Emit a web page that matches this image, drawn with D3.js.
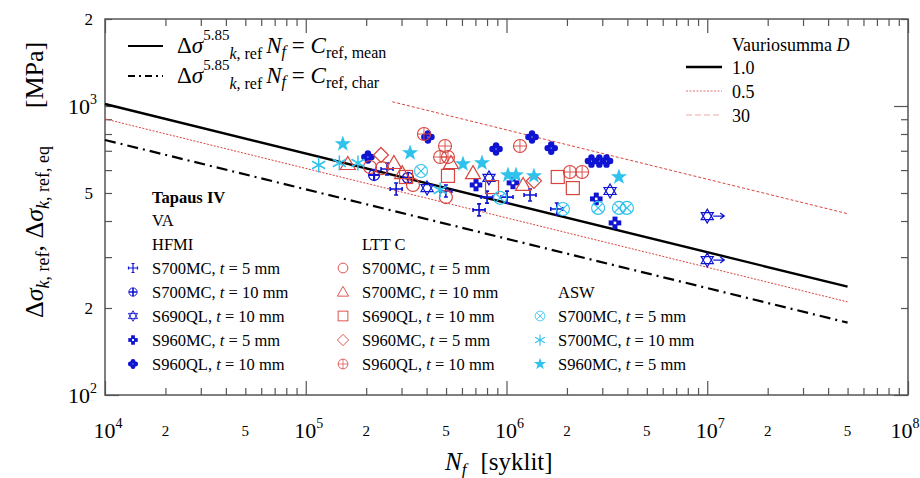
<!DOCTYPE html>
<html>
<head>
<script src="https://cdn.jsdelivr.net/npm/d3@7"></script>
<style>
html, body { margin: 0; background: #fff; }
svg { display: block; }
svg text { font-family: "Liberation Serif", "DejaVu Serif", serif; }
</style>
</head>
<body>
<div id="chart"></div>
<script>

// --- data (N cycles, stress range MPa) ---
var hfmi700t5  = [[2.54e5,605],[2.82e5,516],[4.99e5,508],[7.3e5,437],[8.0e5,484],[1.006e6,484],[1.31e6,492],[1.78e6,440]];
var hfmi700t10 = [[2.19e5,577],[3.23e5,564]];
var hfmi690t10 = [[4.02e5,520],[8.18e5,564],[3.28e6,508]];
var hfmi690run = [[1e7,416],[1e7,293]];
var hfmi960t5  = [[7.05e5,533],[1.077e6,542],[2.8e6,477],[3.47e6,394]];
var hfmi960t10 = [[2.04e5,666],[4.06e5,781],[8.87e5,710],[1.34e6,781],[1.67e6,715],[2.65e6,645],[2.9e6,645],[3.15e6,645]];

var ltt700t5  = [[2.09e5,615],[2.4e5,610],[3.42e5,533],[4.99e5,484]];
var ltt700t10 = [[1.62e5,630],[2.75e5,635],[3.02e5,586],[5.29e5,635],[6.81e5,586],[1.21e6,533]];
var ltt690t10 = [[3.16e5,568],[5.11e5,573],[8.47e5,524],[1.8e6,568],[2.14e6,520]];
var ltt960t5  = [[2.37e5,677],[1.37e6,551]];
var ltt960t10 = [[3.88e5,800],[4.94e5,727],[4.67e5,666],[5.11e5,666],[1.167e6,727],[2.07e6,591],[2.38e6,591]];

var asw700t5  = [[3.75e5,596],[9.29e5,481],[1.91e6,440],[2.86e6,444],[3.63e6,444],[3.98e6,444]];
var asw700t10 = [[1.16e5,625],[1.47e5,635],[1.82e5,635],[4.67e5,512]];
var asw960t5  = [[1.53e5,739],[3.31e5,688],[6.07e5,630],[7.55e5,635],[1.017e6,577],[1.115e6,577],[1.37e6,573],[3.63e6,568]];

// S-N lines, end points
var meanLine = [[1e4,1016],[5e7,237]];
var charLine = [[1e4,763],[5e7,178]];
var d05Line  = [[1e4,902],[5e7,210]];
var d30Line  = [[2.7e5,1034],[5e7,424]];

var xMajor = [1e4,1e5,1e6,1e7,1e8];
var xMinor = [];
[1e4,1e5,1e6,1e7].forEach(function(d){ for (var k=2;k<10;k++) xMinor.push(d*k); });
var xMinorLabels = ["2","5"];
var yMajor = [100,1000];
var yMinor = [200,300,400,500,600,700,800,900,2000];
var yMinorLabels = [[200,"2"],[500,"5"],[2000,"2"]];

var blue = "#0f14d2", red = "#d8443e", cyan = "#2ec2ec", frame = "#555";

var W = 920, H = 478;
var svg = d3.select("#chart").append("svg").attr("width", W).attr("height", H)
  .attr("font-family", "Liberation Serif, DejaVu Serif, serif");

var x = d3.scaleLog().domain([1e4,1e8]).range([105,908]);
var y = d3.scaleLog().domain([100,2000]).range([395,19]);

// ticks, all inward
function tickGroup(axis, vals, len, tr) {
  svg.append("g").attr("transform", tr)
    .call(axis.tickValues(vals).tickSize(-len).tickFormat(""))
    .call(function(g){ g.select(".domain").remove(); })
    .selectAll("line").attr("stroke", frame).attr("stroke-width", 1.2);
}
tickGroup(d3.axisBottom(x), xMajor, 14, "translate(0,395)");
tickGroup(d3.axisBottom(x), xMinor, 7, "translate(0,395)");
tickGroup(d3.axisTop(x), xMajor, 14, "translate(0,19)");
tickGroup(d3.axisTop(x), xMinor, 7, "translate(0,19)");
tickGroup(d3.axisLeft(y), yMajor, 14, "translate(105,0)");
tickGroup(d3.axisLeft(y), yMinor, 7, "translate(105,0)");
tickGroup(d3.axisRight(y), yMajor, 14, "translate(908,0)");
tickGroup(d3.axisRight(y), yMinor, 7, "translate(908,0)");

svg.append("rect").attr("x",105).attr("y",19).attr("width",803).attr("height",376)
  .attr("fill","none").attr("stroke",frame).attr("stroke-width",1.5);

// tick labels
xMajor.forEach(function(v, i){
  var t = svg.append("text").attr("x", x(v) + (i == 4 ? -3 : 3)).attr("y", 438).attr("text-anchor","middle").attr("font-size",22);
  t.append("tspan").text("10");
  t.append("tspan").attr("dy",-10).attr("font-size",14).text(Math.round(Math.log10(v)));
});
xMajor.slice(0,4).forEach(function(d){
  xMinorLabels.forEach(function(s){
    svg.append("text").attr("x", x(d*(+s))).attr("y",436).attr("text-anchor","middle").attr("font-size",15).text(s);
  });
});
yMajor.forEach(function(v){
  var t = svg.append("text").attr("x", 97).attr("y", y(v)+8).attr("text-anchor","end").attr("font-size",22);
  t.append("tspan").text("10");
  t.append("tspan").attr("dy",-10).attr("font-size",14).text(Math.round(Math.log10(v)));
});
yMinorLabels.forEach(function(d){
  svg.append("text").attr("x",93).attr("y",y(d[0])+6).attr("text-anchor","end").attr("font-size",17).text(d[1]);
});

// axis titles
var xt = svg.append("text").attr("x",445).attr("y",470).attr("font-size",25);
xt.append("tspan").attr("font-style","italic").text("N");
xt.append("tspan").attr("font-style","italic").attr("font-size",17).attr("dy",5).text("f");
xt.append("tspan").attr("dy",-5).attr("dx",14).text("[syklit]");

var yt = svg.append("text").attr("transform","translate(43,232) rotate(-90)").attr("text-anchor","middle").attr("font-size",26);
yt.append("tspan").text("Δ");
yt.append("tspan").attr("font-style","italic").text("σ");
yt.append("tspan").attr("font-style","italic").attr("font-size",18).attr("dy",6).text("k");
yt.append("tspan").attr("font-size",18).text(", ref");
yt.append("tspan").attr("dy",-6).text(",  Δ");
yt.append("tspan").attr("font-style","italic").text("σ");
yt.append("tspan").attr("font-style","italic").attr("font-size",18).attr("dy",6).text("k");
yt.append("tspan").attr("font-size",18).text(", ref, eq");
svg.append("text").attr("transform","translate(43,75) rotate(-90)").attr("text-anchor","middle").attr("font-size",26).text("[MPa]");

// lines
var line = d3.line().x(function(d){ return x(d[0]); }).y(function(d){ return y(d[1]); });
var lineStyles = [
  [d05Line, red, 1, "2,1.5"],
  [d30Line, red, 1, "3,2"],
  [charLine, "#000", 2.2, "11,5,2,5"],
  [meanLine, "#000", 2.4, null]
];
lineStyles.forEach(function(s){
  svg.append("path").attr("d", line(s[0])).attr("fill","none").attr("stroke",s[1])
    .attr("stroke-width",s[2]).attr("stroke-dasharray",s[3]);
});

// marker shapes
function star(ro, ri) {
  var p = [];
  for (var i=0;i<10;i++) {
    var a = -Math.PI/2 + i*Math.PI/5, r = i%2 ? ri : ro;
    p.push([r*Math.cos(a), r*Math.sin(a)]);
  }
  return "M" + p.join("L") + "Z";
}
function tri(r, a0) {
  var p = [];
  for (var i=0;i<3;i++) { var a = a0 + i*2*Math.PI/3; p.push([r*Math.cos(a), r*Math.sin(a)]); }
  return "M" + p.join("L") + "Z";
}
var shapes = {
  cross: function(g,c){
    g.append("path").attr("d","M0,-6.5V6.5M-6.5,0H6.5M-2,-6H2M-2,6H2M-6,-2V2M6,-2V2")
      .attr("stroke",c).attr("stroke-width",1.6).attr("fill","none");
  },
  crossCircle: function(g,c){
    g.append("circle").attr("r",5.5).attr("stroke",c).attr("stroke-width",1.3).attr("fill","none");
    g.append("path").attr("d","M0,-5.5V5.5M-5.5,0H5.5").attr("stroke",c).attr("stroke-width",2.2);
  },
  hexagram: function(g,c){
    g.append("path").attr("d", tri(7,-Math.PI/2) + tri(7,Math.PI/2))
      .attr("stroke",c).attr("stroke-width",1.2).attr("fill","none");
  },
  squares: function(g,c){
    [[0,-3.8],[3.8,0],[0,3.8],[-3.8,0]].forEach(function(p){
      g.append("rect").attr("x",p[0]-2.5).attr("y",p[1]-2.5).attr("width",5).attr("height",5).attr("fill",c);
    });
  },
  clover: function(g,c){
    [[0,-3.6],[3.6,0],[0,3.6],[-3.6,0]].forEach(function(p){
      g.append("circle").attr("cx",p[0]).attr("cy",p[1]).attr("r",3.2).attr("fill",c);
    });
  },
  circle: function(g,c){
    g.append("circle").attr("r",6.5).attr("stroke",c).attr("stroke-width",1.2).attr("fill","none");
  },
  triangle: function(g,c){
    g.append("path").attr("d","M0,-7.5L7.5,5.5L-7.5,5.5Z").attr("stroke",c).attr("stroke-width",1.2).attr("fill","none");
  },
  square: function(g,c){
    g.append("rect").attr("x",-6.5).attr("y",-6.5).attr("width",13).attr("height",13)
      .attr("stroke",c).attr("stroke-width",1.2).attr("fill","none");
  },
  diamond: function(g,c){
    g.append("path").attr("d","M0,-7.5L7.5,0L0,7.5L-7.5,0Z").attr("stroke",c).attr("stroke-width",1.2).attr("fill","none");
  },
  circleBar: function(g,c){
    g.append("circle").attr("r",6.5).attr("stroke",c).attr("stroke-width",1.1).attr("fill","none");
    g.append("path").attr("d","M-6.5,0H6.5M0,-6.5V6.5").attr("stroke",c).attr("stroke-width",0.9);
  },
  circleX: function(g,c){
    g.append("circle").attr("r",6.5).attr("stroke",c).attr("stroke-width",1.1).attr("fill","none");
    g.append("path").attr("d","M-4.6,-4.6L4.6,4.6M-4.6,4.6L4.6,-4.6").attr("stroke",c).attr("stroke-width",1.1);
  },
  asterisk: function(g,c){
    g.append("path").attr("d","M0,-7.5V7.5M-6.5,-3.75L6.5,3.75M-6.5,3.75L6.5,-3.75").attr("stroke",c).attr("stroke-width",1.5);
  },
  star: function(g,c){
    g.append("path").attr("d", star(8.5,3.4)).attr("fill",c);
  }
};

var series = [
  [hfmi700t5, "cross", blue], [hfmi700t10, "crossCircle", blue], [hfmi690t10, "hexagram", blue],
  [hfmi960t5, "squares", blue], [hfmi960t10, "clover", blue],
  [ltt700t5, "circle", red], [ltt700t10, "triangle", red], [ltt690t10, "square", red],
  [ltt960t5, "diamond", red], [ltt960t10, "circleBar", red],
  [asw700t5, "circleX", cyan], [asw700t10, "asterisk", cyan], [asw960t5, "star", cyan]
];
series.forEach(function(s){
  s[0].forEach(function(d){
    var g = svg.append("g").attr("transform","translate(" + x(d[0]) + "," + y(d[1]) + ")");
    shapes[s[1]](g, s[2]);
  });
});
// run-outs
hfmi690run.forEach(function(d){
  var g = svg.append("g").attr("transform","translate(" + x(d[0]) + "," + y(d[1]) + ")");
  shapes.hexagram(g, blue);
  g.append("path").attr("d","M6,0H17M13,-3L17,0L13,3").attr("stroke",blue).attr("stroke-width",1.3).attr("fill","none");
});

// legend top-left
function formula(yb, tail) {
  var t = svg.append("text").attr("x",177).attr("y",yb).attr("font-size",23);
  t.append("tspan").text("Δ");
  t.append("tspan").attr("font-style","italic").text("σ");
  t.append("tspan").attr("font-size",15).attr("dy",-13).text("5.85");
  t.append("tspan").attr("font-size",16).attr("font-style","italic").attr("dy",19).text("k");
  t.append("tspan").attr("font-size",16).text(", ref");
  t.append("tspan").attr("dy",-6).attr("dx",4).attr("font-style","italic").text("N");
  t.append("tspan").attr("font-size",16).attr("font-style","italic").attr("dy",4).text("f");
  t.append("tspan").attr("dy",-4).text(" = ");
  t.append("tspan").attr("font-style","italic").text("C");
  t.append("tspan").attr("font-size",16).attr("dy",5).text(tail);
}
svg.append("path").attr("d","M128,46H163").attr("stroke","#000").attr("stroke-width",2.2);
formula(53, "ref, mean");
svg.append("path").attr("d","M128,76H163").attr("stroke","#000").attr("stroke-width",2).attr("stroke-dasharray","7,4,2,4");
formula(83, "ref, char");

// legend top-right
var vt = svg.append("text").attr("x",732).attr("y",51).attr("font-size",18);
vt.append("tspan").text("Vauriosumma ");
vt.append("tspan").attr("font-style","italic").text("D");
var dLegend = [["1.0", "#000", 2.4, null], ["0.5", "#e07070", 1, "2,1.5"], ["30", "#f0a8a8", 1, "6,3"]];
dLegend.forEach(function(d,i){
  var yy = 67 + i*24;
  svg.append("path").attr("d","M686," + yy + "H722").attr("stroke",d[1]).attr("stroke-width",d[2]).attr("stroke-dasharray",d[3]);
  svg.append("text").attr("x",732).attr("y",yy+7).attr("font-size",18).text(d[0]);
});

// legend bottom
svg.append("text").attr("x",152).attr("y",203).attr("font-size",16.5).attr("font-weight","bold").text("Tapaus IV");
svg.append("text").attr("x",152).attr("y",226).attr("font-size",16.5).text("VA");
var groups = [
  {title:"HFMI", tx:152, ty:250, mx:133, row0:0, items:[["S700MC","5","cross",blue],["S700MC","10","crossCircle",blue],["S690QL","10","hexagram",blue],["S960MC","5","squares",blue],["S960QL","10","clover",blue]]},
  {title:"LTT C", tx:362, ty:250, mx:343, row0:0, items:[["S700MC","5","circle",red],["S700MC","10","triangle",red],["S690QL","10","square",red],["S960MC","5","diamond",red],["S960QL","10","circleBar",red]]},
  {title:"ASW", tx:558, ty:298, mx:540, row0:2, items:[["S700MC","5","circleX",cyan],["S700MC","10","asterisk",cyan],["S960MC","5","star",cyan]]}
];
groups.forEach(function(gr){
  svg.append("text").attr("x",gr.tx).attr("y",gr.ty).attr("font-size",16.5).text(gr.title);
  gr.items.forEach(function(it,i){
    var cy = 268 + (gr.row0 + i)*24;
    var g = svg.append("g").attr("transform","translate(" + gr.mx + "," + cy + ") scale(0.75)");
    shapes[it[2]](g, it[3]);
    var t = svg.append("text").attr("x",gr.tx).attr("y",cy+6).attr("font-size",16.5);
    t.append("tspan").text(it[0] + ", ");
    t.append("tspan").attr("font-style","italic").text("t");
    t.append("tspan").text(" = " + it[1] + " mm");
  });
});

</script>
</body>
</html>
